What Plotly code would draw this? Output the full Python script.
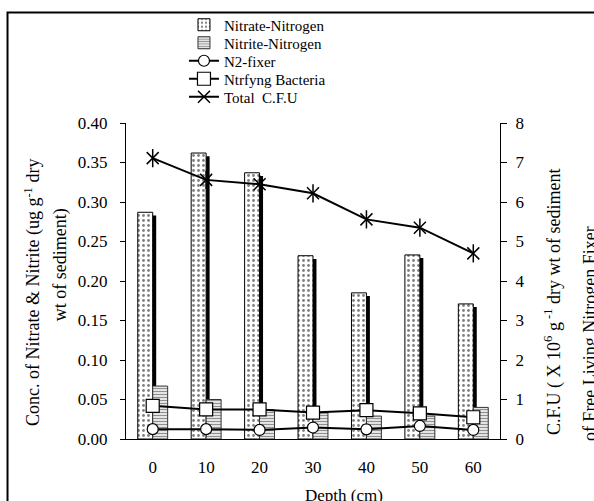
import plotly.graph_objects as go

# ---- data ----
depth_labels = ["0", "10", "20", "30", "40", "50", "60"]
nitrate = [0.287, 0.362, 0.337, 0.232, 0.185, 0.233, 0.171]
nitrite = [0.067, 0.050, 0.037, 0.033, 0.029, 0.029, 0.040]
n2_fixer = [0.25, 0.25, 0.23, 0.29, 0.245, 0.33, 0.23]
ntrfyng = [0.84, 0.75, 0.75, 0.67, 0.73, 0.65, 0.55]
total_cfu = [7.11, 6.56, 6.45, 6.22, 5.56, 5.35, 4.70]
left_ticks = [0, 0.05, 0.10, 0.15, 0.20, 0.25, 0.30, 0.35, 0.40]
right_ticks = [0, 1, 2, 3, 4, 5, 6, 7, 8]

xi = list(range(len(depth_labels)))
FONT = "Liberation Serif"
FS = 17       # tick labels
FT = 18       # axis titles
FL = 15       # legend
BW = 0.28

fig = go.Figure()

# shadow of nitrate bars
fig.add_trace(go.Bar(
    x=xi, y=[v - 0.004 for v in nitrate], offset=-BW + 0.065, width=BW,
    marker=dict(color="black", line=dict(width=0)), showlegend=False,
    hoverinfo="skip"))
fig.add_trace(go.Bar(
    x=xi, y=nitrate, offset=-BW, width=BW, name="Nitrate-Nitrogen",
    legend="legend",
    marker=dict(color="white", line=dict(color="black", width=1),
                pattern=dict(shape=".", fgcolor="black", bgcolor="white",
                             size=5, solidity=0.25, fillmode="overlay"))))
fig.add_trace(go.Bar(
    x=xi, y=nitrite, offset=0, width=BW, name="Nitrite-Nitrogen",
    legend="legend2",
    marker=dict(color="white", line=dict(color="#333333", width=1),
                pattern=dict(shape="-", fgcolor="#222222", bgcolor="white",
                             size=3, solidity=0.5, fillmode="overlay"))))

fig.add_trace(go.Scatter(
    x=xi, y=n2_fixer, yaxis="y2", name="N2-fixer", mode="lines+markers",
    legend="legend3",
    line=dict(color="black", width=2),
    marker=dict(symbol="circle", size=11, color="white",
                line=dict(color="black", width=1.2))))
fig.add_trace(go.Scatter(
    x=xi, y=ntrfyng, yaxis="y2", name="Ntrfyng Bacteria", mode="lines+markers",
    legend="legend4",
    line=dict(color="black", width=2),
    marker=dict(symbol="square", size=13, color="white",
                line=dict(color="black", width=1.2))))
fig.add_trace(go.Scatter(
    x=xi, y=total_cfu, yaxis="y2", name="Total  C.F.U", mode="lines+markers",
    legend="legend5",
    line=dict(color="black", width=2),
    marker=dict(symbol="x-thin-open", size=12, color="black",
                line=dict(color="black", width=1.5))))
fig.add_trace(go.Scatter(
    x=xi, y=total_cfu, yaxis="y2", mode="markers", showlegend=False,
    hoverinfo="skip",
    marker=dict(symbol="line-ns-open", size=13, color="black",
                line=dict(color="black", width=1.5))))

tickfont = dict(family=FONT, size=FS, color="black")
boundaries = [i - 0.5 for i in range(len(depth_labels) + 1)]


def leg(row_px):
    return dict(x=0.155, y=(439 - row_px) / 316, xanchor="left",
                yanchor="middle", bgcolor="rgba(0,0,0,0)",
                font=dict(family=FONT, size=FL, color="black"),
                itemwidth=30)


fig.update_layout(
    width=594, height=501,
    margin=dict(l=126, r=94, t=123, b=62, autoexpand=False),
    paper_bgcolor="white", plot_bgcolor="white",
    barmode="overlay",
    font=dict(family=FONT, size=FS, color="black"),
    showlegend=True,
    legend=leg(25), legend2=leg(43), legend3=leg(61), legend4=leg(79),
    legend5=leg(97),
    xaxis=dict(range=[-0.5, len(depth_labels) - 0.5], tickvals=xi,
               ticktext=depth_labels, ticks="outside", ticklen=13,
               tickcolor="rgba(0,0,0,0)", showline=True, linecolor="black",
               linewidth=1, showgrid=False, zeroline=False, tickfont=tickfont),
    xaxis2=dict(overlaying="x", range=[-0.5, len(depth_labels) - 0.5],
                tickvals=boundaries, ticks="outside", ticklen=6,
                tickcolor="black", showticklabels=False, showline=False,
                showgrid=False, zeroline=False),
    xaxis3=dict(overlaying="x", range=[-0.5, len(depth_labels) - 0.5],
                tickvals=boundaries, ticks="inside", ticklen=6,
                tickcolor="black", showticklabels=False, showline=False,
                showgrid=False, zeroline=False),
    yaxis=dict(range=[0, 0.40], tickvals=left_ticks, tickformat=".2f",
               ticks="outside", ticklen=5, tickcolor="black",
               ticklabelstandoff=9,
               showline=True, linecolor="black", linewidth=1,
               showgrid=False, zeroline=False, tickfont=tickfont),
    yaxis2=dict(range=[0, 8], tickvals=right_ticks, overlaying="y",
                side="right", ticks="outside", ticklen=6, tickcolor="black",
                ticklabelstandoff=5,
                showline=True, linecolor="black", linewidth=1,
                showgrid=False, zeroline=False, tickfont=tickfont),
    yaxis3=dict(range=[0, 0.40], tickvals=left_ticks, overlaying="y",
                side="left", ticks="inside", ticklen=5, tickcolor="black",
                showticklabels=False, showline=False, showgrid=False,
                zeroline=False),
    yaxis4=dict(range=[0, 8], tickvals=right_ticks, overlaying="y",
                side="right", ticks="inside", ticklen=6, tickcolor="black",
                showticklabels=False, showline=False, showgrid=False,
                zeroline=False),
)


def ann(text, x, y, angle=0, size=FT):
    fig.add_annotation(text=text, xref="paper", yref="paper", x=x, y=y,
                       xanchor="center", yanchor="middle", textangle=angle,
                       showarrow=False,
                       font=dict(family=FONT, size=size, color="black"))


ann("Conc. of Nitrate & Nitrite (ug g<sup>-1</sup> dry", -0.2487, 0.465, -90)
ann("wt of sediment)", -0.1765, 0.553, -90)
ann("C.F.U ( X 10<sup>6</sup> g<sup> -1</sup> dry wt of sediment",
    1.1417, 0.4367, -90)
ann("of Free Living Nitrogen Fixer", 1.2406, 0.335, -90)
ann("Depth (cm)", (344 - 126) / 374, -0.178, 0, FS)

# outer frame
fig.add_shape(type="rect", xref="paper", yref="paper",
              x0=-0.3168, x1=1.26, y0=-0.2, y1=1.3497,
              line=dict(color="black", width=2), fillcolor="rgba(0,0,0,0)")

fig.write_html("out.html")
